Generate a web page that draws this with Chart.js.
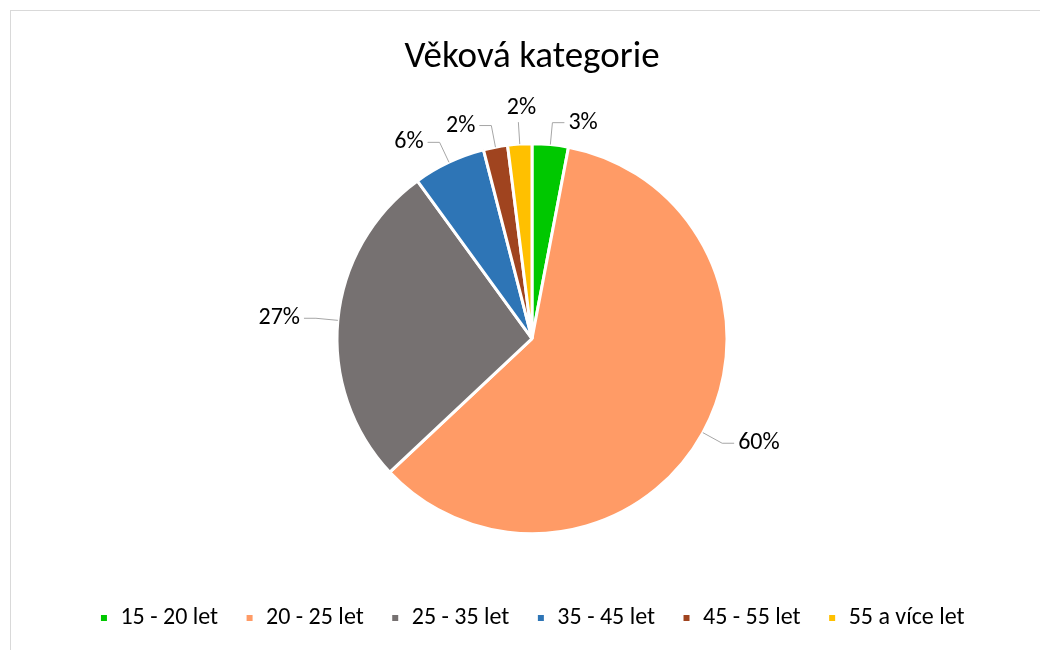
<!DOCTYPE html>
<html lang="cs">
<head>
    <meta charset="UTF-8">
    <title>Věková kategorie</title>
    <style>
        body {
            margin: 0;
            background: #ffffff;
            overflow: hidden;
            font-family: Carlito, Lato, sans-serif;
        }
        .frame {
            position: absolute;
            left: 10px;
            top: 10px;
            width: 1042px;
            height: 660px;
            border: 1px solid #d9d9d9;
        }
        #pieChart {
            display: block;
        }
    </style>
</head>
<body>

<div class="frame">
    <canvas id="pieChart" width="1042" height="639"></canvas>
</div>

<script src="https://cdn.jsdelivr.net/npm/chart.js"></script>
<script>
    const categories = ['15 - 20 let', '20 - 25 let', '25 - 35 let', '35 - 45 let', '45 - 55 let', '55 a více let'];
    const shares = [3, 60, 27, 6, 2, 2];
    const sliceColors = ['#00c800', '#ff9b66', '#767171', '#2e75b6', '#a0441f', '#ffc000'];

    const fontFamily = 'Carlito, Lato, sans-serif';

    // popisky s vodicími čarami mimo výseče
    const outsideLabels = {
        id: 'outsideLabels',
        afterDatasetsDraw(chart) {
            const ctx = chart.ctx;
            const meta = chart.getDatasetMeta(0);
            ctx.save();
            ctx.font = '24px ' + fontFamily;
            ctx.fillStyle = '#000000';
            ctx.strokeStyle = '#a6a6a6';
            ctx.lineWidth = 1;
            meta.data.forEach((arc, i) => {
                const p = arc.getProps(['x', 'y', 'startAngle', 'endAngle', 'outerRadius'], true);
                const mid = (p.startAngle + p.endAngle) / 2;
                const cos = Math.cos(mid), sin = Math.sin(mid);
                const x1 = p.x + p.outerRadius * cos, y1 = p.y + p.outerRadius * sin;
                const x2 = p.x + (p.outerRadius + 22) * cos, y2 = p.y + (p.outerRadius + 22) * sin;
                const text = shares[i] + '%';
                ctx.beginPath();
                ctx.moveTo(x1, y1);
                ctx.lineTo(x2, y2);
                if (Math.abs(cos) < 0.08) {
                    ctx.stroke();
                    ctx.textAlign = 'center';
                    ctx.textBaseline = 'bottom';
                    ctx.fillText(text, x2 + 3, y2 - 2);
                } else {
                    const dir = cos >= 0 ? 1 : -1;
                    const x3 = x2 + dir * 12;
                    ctx.lineTo(x3, y2);
                    ctx.stroke();
                    ctx.textAlign = dir > 0 ? 'left' : 'right';
                    ctx.textBaseline = 'middle';
                    ctx.fillText(text, x3 + dir * 4, y2);
                }
            });
            ctx.restore();
        }
    };

    const myChart = new Chart(document.getElementById('pieChart'), {
        type: 'pie',
        data: {
            labels: categories,
            datasets: [{
                data: shares,
                backgroundColor: sliceColors,
                borderColor: '#ffffff',
                borderWidth: 3,
                radius: 195
            }]
        },
        options: {
            responsive: false,
            animation: false,
            layout: {
                padding: { top: 0, bottom: 10, left: 0, right: 0 }
            },
            plugins: {
                title: {
                    display: true,
                    text: 'Věková kategorie',
                    color: '#000000',
                    font: { family: fontFamily, size: 37, weight: 'normal' },
                    padding: { top: 25, bottom: 18 }
                },
                legend: {
                    position: 'bottom',
                    labels: {
                        color: '#000000',
                        font: { family: fontFamily, size: 24 },
                        boxWidth: 9,
                        boxHeight: 9,
                        padding: 27
                    }
                },
                tooltip: { enabled: false }
            }
        },
        plugins: [outsideLabels]
    });
</script>

</body>
</html>
